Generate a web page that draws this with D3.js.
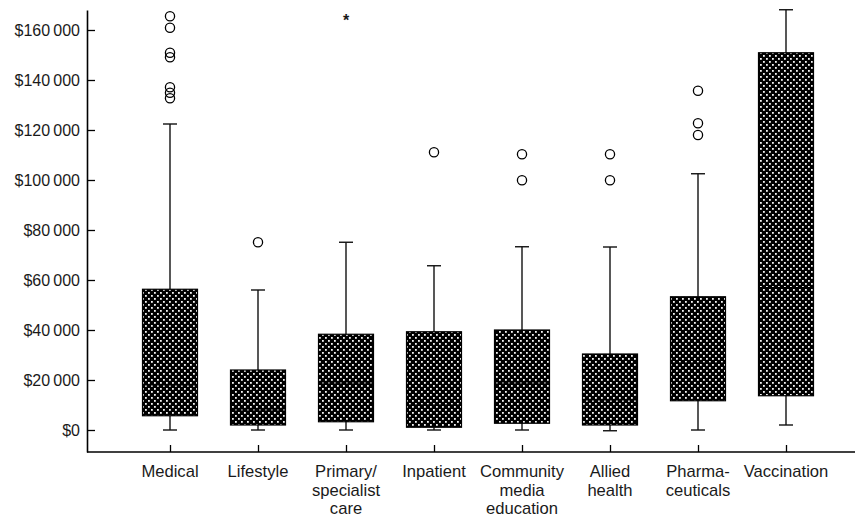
<!DOCTYPE html>
<html lang="en">
    <head>
        <meta charset="UTF-8" />
        <title>Box plot D3</title>
        <style>
            body { margin: 0; background: #fff; }
            text { font-family: "Liberation Sans", Arial, sans-serif; fill: #1a1a1a; }
        </style>
    </head>
    <body>
        <script src="https://cdn.jsdelivr.net/npm/d3@7"></script>
        <div id="app"></div>
        <script>
        // DATA
            const categories = ["Medical", "Lifestyle", "Primary/\nspecialist\ncare", "Inpatient",
                "Community\nmedia\neducation", "Allied\nhealth", "Pharma-\nceuticals", "Vaccination"];
            const whiskerLow = [0, 0, 0, 0, 0, -300, 0, 2000];
            const boxLow = [5700, 2000, 3300, 1100, 2700, 2000, 11700, 13700];
            const medians = [18000, 8000, 18800, 10000, 18800, 12000, 26800, 57000];
            const boxHigh = [56300, 24000, 38300, 39300, 40000, 30400, 53300, 150900];
            const whiskerHigh = [122400, 56000, 75100, 65700, 73300, 73200, 102500, 168100];
            const outliers = [
                [165500, 160900, 150900, 149100, 137100, 134900, 132700],
                [75100],
                [],
                [111100],
                [110300, 99900],
                [110300, 99900],
                [135700, 122700, 118000],
                []
            ];
            const extremes = [[], [], [164800], [], [], [], [], []];
            const yTicks = [0, 20000, 40000, 60000, 80000, 100000, 120000, 140000, 160000];

        //SVG
            const w = 857;
            const h = 517;

            const svg = d3.select("#app")
                .append("svg")
                .attr("width", w)
                .attr("height", h);

        //Pattern
            const pat = svg.append("defs")
                .append("pattern")
                .attr("id", "dots")
                .attr("patternUnits", "userSpaceOnUse")
                .attr("width", 6)
                .attr("height", 6);
            pat.append("rect").attr("width", 6).attr("height", 6).attr("fill", "#000");
            pat.append("rect").attr("x", 1).attr("y", 1).attr("width", 1.8).attr("height", 1.8).attr("fill", "#f4f4f4");
            pat.append("rect").attr("x", 4).attr("y", 4).attr("width", 1.8).attr("height", 1.8).attr("fill", "#f4f4f4");

        //Escalas
            const xScale = d3.scalePoint()
                .domain(categories)
                .range([170, 786]);

            const yScale = d3.scaleLinear()
                .domain([-8800, 168000])
                .range([452, 10]);

            const fmt = v => "$" + d3.format(",")(v).replace(/,/g, "\u2009");

        //AXIS
            const yAxis = d3.axisLeft(yScale)
                .tickValues(yTicks)
                .tickSizeInner(-8)
                .tickSizeOuter(0)
                .tickPadding(7)
                .tickFormat(fmt);

            const gy = svg.append("g")
                .attr("transform", "translate(87,0)")
                .call(yAxis);
            gy.selectAll("text").style("font-size", "16px").attr("x", -7);
            gy.select(".domain").attr("stroke-width", 1.6);
            gy.selectAll(".tick line").attr("stroke-width", 1.3);

            const xAxis = d3.axisBottom(xScale)
                .tickSizeInner(-7)
                .tickSizeOuter(0)
                .tickFormat("");

            const gx = svg.append("g")
                .attr("transform", "translate(0,452)")
                .call(xAxis);
            gx.select(".domain").attr("d", "M87,0H855").attr("stroke-width", 1.6);
            gx.selectAll(".tick line").attr("stroke-width", 1.3);

            categories.forEach((c, i) => {
                const t = svg.append("text")
                    .attr("x", xScale(c))
                    .attr("y", 477)
                    .attr("text-anchor", "middle")
                    .style("font-size", "16.6px");
                c.split("\n").forEach((line, j) => {
                    t.append("tspan")
                        .attr("x", xScale(c))
                        .attr("dy", j === 0 ? 0 : 18.5)
                        .text(line);
                });
            });

        //BOXES
            const boxW = 55;
            const capW = 14;
            const g = svg.append("g");

            categories.forEach((c, i) => {
                const cx = xScale(c);
                g.append("line")
                    .attr("x1", cx).attr("x2", cx)
                    .attr("y1", yScale(whiskerLow[i])).attr("y2", yScale(whiskerHigh[i]))
                    .attr("stroke", "#111").attr("stroke-width", 1.4);
                [whiskerLow[i], whiskerHigh[i]].forEach(v => {
                    g.append("line")
                        .attr("x1", cx - capW / 2).attr("x2", cx + capW / 2)
                        .attr("y1", yScale(v)).attr("y2", yScale(v))
                        .attr("stroke", "#111").attr("stroke-width", 1.4);
                });
                g.append("rect")
                    .attr("x", cx - boxW / 2)
                    .attr("y", yScale(boxHigh[i]))
                    .attr("width", boxW)
                    .attr("height", yScale(boxLow[i]) - yScale(boxHigh[i]))
                    .attr("fill", "url(#dots)")
                    .attr("stroke", "#000")
                    .attr("stroke-width", 1.2);
                g.append("line")
                    .attr("x1", cx - boxW / 2).attr("x2", cx + boxW / 2)
                    .attr("y1", yScale(medians[i])).attr("y2", yScale(medians[i]))
                    .attr("stroke", "#000").attr("stroke-width", 1.2);
                outliers[i].forEach(v => {
                    g.append("circle")
                        .attr("cx", cx).attr("cy", yScale(v))
                        .attr("r", 4.6)
                        .attr("fill", "none")
                        .attr("stroke", "#000")
                        .attr("stroke-width", 1.3);
                });
                extremes[i].forEach(v => {
                    g.append("text")
                        .attr("x", cx).attr("y", yScale(v) + 8)
                        .attr("text-anchor", "middle")
                        .style("font-size", "16px")
                        .style("font-weight", "bold")
                        .text("*");
                });
            });
        </script>
    </body>
</html>
